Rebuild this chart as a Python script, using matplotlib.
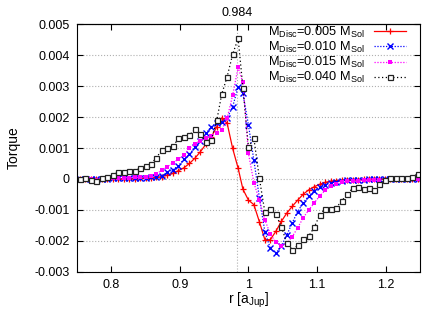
import matplotlib
matplotlib.use("Agg")
import matplotlib.pyplot as plt

plt.rcParams["font.family"] = ["Liberation Sans", "DejaVu Sans"]
plt.rcParams["mathtext.fontset"] = "custom"
plt.rcParams["mathtext.rm"] = "Liberation Sans"

r = [0.754, 0.762, 0.770, 0.778, 0.786, 0.794, 0.802, 0.810, 0.818, 0.826,
     0.834, 0.842, 0.850, 0.858, 0.866, 0.874, 0.882, 0.890, 0.898, 0.906,
     0.914, 0.922, 0.930, 0.938, 0.946, 0.954, 0.961, 0.969, 0.977, 0.985,
     0.992, 1.000, 1.008, 1.016, 1.024, 1.032, 1.040, 1.048, 1.056, 1.064,
     1.072, 1.080, 1.088, 1.096, 1.104, 1.112, 1.120, 1.128, 1.136, 1.144,
     1.152, 1.160, 1.168, 1.176, 1.183, 1.191, 1.199, 1.207, 1.215, 1.223,
     1.231, 1.239, 1.247]

torque_005 = [0.0, 0.0, 0.0, 0.0, 0.0, 0.0, 0.0, 0.0, 0.00001, 0.00001,
              0.00001, 0.00002, 0.00002, 0.00003, 0.00005, 0.00008, 0.00012, 0.00018, 0.00027, 0.00036,
              0.0005, 0.00067, 0.00088, 0.00112, 0.00136, 0.00169, 0.00197, 0.0018, 0.00099, 0.00035,
              -0.00033, -0.00068, -0.00083, -0.00138, -0.00196, -0.00196, -0.00169, -0.00137, -0.0011, -0.00088,
              -0.00068, -0.00049, -0.00035, -0.00025, -0.00017, -0.00011, -0.00007, -0.00005, -0.00004, -0.00003,
              -0.00002, -0.00002, -0.00001, -0.00001, 0.0, 0.0, 0.0, 0.0, 0.0, 0.0,
              0.0, 0.0, 0.0]

torque_010 = [0.00001, 0.00001, 0.00001, 0.0, 0.00001, 0.00001, 0.00002, 0.00002, 0.00002, 0.00003,
              0.00003, 0.00003, 0.00004, 0.00005, 0.00007, 0.00011, 0.00021, 0.0003, 0.00043, 0.00063,
              0.0008, 0.00102, 0.00123, 0.00147, 0.00169, 0.0018, 0.00185, 0.00196, 0.00233, 0.00297,
              0.00276, 0.00175, 0.0006, -0.0006, -0.0017, -0.00224, -0.0024, -0.00216, -0.00181, -0.00141,
              -0.00105, -0.00076, -0.00055, -0.00038, -0.00026, -0.00019, -0.00013, -0.00009, -0.00006, -0.00004,
              -0.00003, -0.00002, -0.00002, -0.00001, -0.00001, 0.0, 0.0, 0.0, 0.0, 0.0,
              0.0, 0.0, 0.0]

torque_015 = [0.00001, 0.00002, 0.0, -0.00002, 0.00001, 0.00002, 0.00003, 0.00003, 0.00004, 0.00004,
              0.00005, 0.00006, 0.00008, 0.0001, 0.00015, 0.0003, 0.0004, 0.00052, 0.00064, 0.00076,
              0.00099, 0.00113, 0.00124, 0.00132, 0.0014, 0.00147, 0.00158, 0.00196, 0.0027, 0.0036,
              0.00312, 0.00083, -0.00012, -0.00069, -0.00132, -0.00178, -0.00204, -0.00215, -0.00208, -0.00186,
              -0.00157, -0.00125, -0.001, -0.00077, -0.00055, -0.00036, -0.00023, -0.00016, -0.00011, -0.00008,
              -0.00006, -0.00005, -0.00004, -0.00003, -0.00003, -0.00002, -0.00002, -0.00002, -0.00001, -0.00001,
              -0.00001, -0.00001, -0.00001]

torque_040 = [0.0, 0.00002, -0.00004, -0.00006, 0.00002, 0.00006, 0.00014, 0.00021, 0.00024, 0.00025,
              0.00027, 0.00034, 0.00042, 0.00048, 0.00069, 0.00094, 0.00099, 0.00105, 0.00131, 0.00136,
              0.00141, 0.00162, 0.00146, 0.00118, 0.00127, 0.0019, 0.00273, 0.0033, 0.00402, 0.00454,
              0.00295, 0.00104, 0.00131, 0.00002, -0.00107, -0.00097, -0.00114, -0.00154, -0.00207, -0.00228,
              -0.00214, -0.00195, -0.00184, -0.00156, -0.00116, -0.00096, -0.00097, -0.00093, -0.00071, -0.00049,
              -0.0003, -0.00025, -0.00032, -0.0003, -0.00035, -0.00017, -0.00003, 0.00002, 0.00002, 0.00002,
              0.00003, 0.00008, 0.00016]

labels = [r"M$_\mathrm{Disc}$=0.005 M$_\mathrm{Sol}$",
          r"M$_\mathrm{Disc}$=0.010 M$_\mathrm{Sol}$",
          r"M$_\mathrm{Disc}$=0.015 M$_\mathrm{Sol}$",
          r"M$_\mathrm{Disc}$=0.040 M$_\mathrm{Sol}$"]

yticks = [-0.003, -0.002, -0.001, 0, 0.001, 0.002, 0.003, 0.004, 0.005]
ytick_labels = ["-0.003", "-0.002", "-0.001", "0", "0.001", "0.002", "0.003", "0.004", "0.005"]
xticks = [0.8, 0.9, 1.0, 1.1, 1.2]
xtick_labels = ["0.8", "0.9", "1", "1.1", "1.2"]
r_planet = 0.984

fig = plt.figure(figsize=(4.42, 3.09), dpi=100)
ax = fig.add_axes([0.174, 0.120, 0.776, 0.802])

ax.axvline(r_planet, color="#b0b0b0", ls=":", lw=0.8, zorder=0)
ax.plot(r, torque_005, color="#ff0000", ls="-", lw=0.9, marker="+", ms=4.5, mew=0.9, label=labels[0])
ax.plot(r, torque_010, color="#0000ff", ls=(0, (1, 1.3)), lw=0.9, marker="x", ms=3.8, mew=1.0, label=labels[1])
ax.plot(r, torque_015, color="#ff00ff", ls=(0, (1, 1.3)), lw=0.9, marker="s", ms=3.5, mew=0, label=labels[2])
ax.plot(r, torque_040, color="#000000", ls=(0, (1, 2)), lw=0.9, marker="s", ms=3.6, mew=0.9,
        mfc="white", mec="#222222", label=labels[3])

ax.set_xlim(0.75, 1.25)
ax.set_ylim(-0.003, 0.005)
ax.set_xticks(xticks, xtick_labels)
ax.set_yticks(yticks, ytick_labels)
ax.yaxis.grid(True, ls=":", color="#b0b0b0", lw=0.8)
ax.tick_params(direction="in", top=True, right=True, labelsize=9, length=4, pad=5)

secax = ax.secondary_xaxis("top")
secax.set_xticks([r_planet], ["0.984"])
secax.tick_params(direction="in", labelsize=9, length=4, pad=4)

ax.set_xlabel(r"r [a$_\mathrm{Jup}$]", fontsize=10)
ax.set_ylabel("Torque", fontsize=10)
ax.xaxis.set_label_coords(0.5, -0.075)
ax.yaxis.set_label_coords(-0.165, 0.5)

ax.legend(loc="upper right", bbox_to_anchor=(0.959, 0.997), frameon=False, markerfirst=False,
          fontsize=9.2, handlelength=2.5, labelspacing=0, borderaxespad=0, borderpad=0,
          handletextpad=0.7)

plt.savefig("out.png", dpi=100)
